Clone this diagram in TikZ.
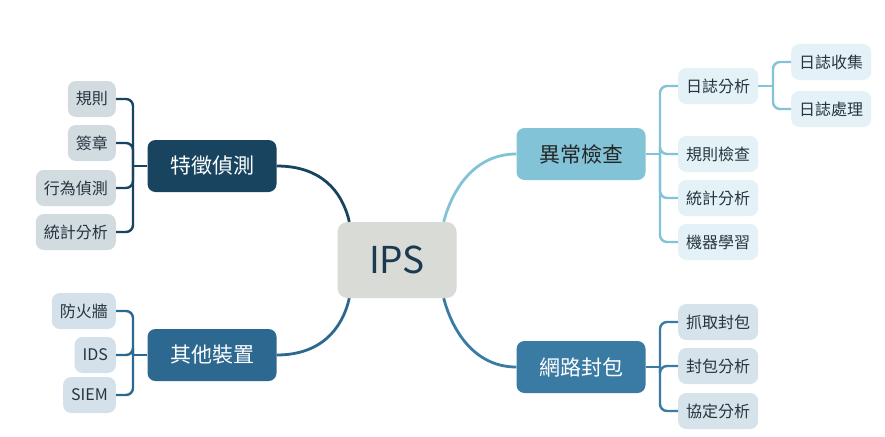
\documentclass[tikz,border=0pt]{standalone}
\usepackage{fontspec}
\setmainfont{Noto Sans CJK TC}
\usetikzlibrary{calc}
\definecolor{ipsfill}{HTML}{D9DBD7}
\definecolor{ipstext}{HTML}{1B3A4F}
\definecolor{tzcol}{HTML}{184460}
\definecolor{qtcol}{HTML}{2D6890}
\definecolor{yccol}{HTML}{83C3D7}
\definecolor{wlcol}{HTML}{3A7BA4}
\definecolor{tzleaf}{HTML}{D2DBE0}
\definecolor{qtleaf}{HTML}{D5E1EA}
\definecolor{ycleaf}{HTML}{E4F2F7}
\definecolor{wlleaf}{HTML}{D6E3EB}
\definecolor{leaftext}{HTML}{26343F}
\tikzset{
  mainbox/.style={rounded corners=8pt, minimum width=129pt, minimum height=52pt,
    font=\fontsize{21}{25}\selectfont},
  leafbox/.style={rounded corners=8pt, minimum height=36pt, inner xsep=8pt,
    font=\fontsize{16}{19}\selectfont, text=leaftext},
  mainline/.style={line width=2.8pt},
  leafline/.style={line width=2.4pt, rounded corners=7pt}
}
\begin{document}
\begin{tikzpicture}[x=1pt, y=-1pt]
    \useasboundingbox[fill=white] (0,0) rectangle (885,436);
    % 中心
    \node[rounded corners=10pt, fill=ipsfill, text=ipstext, minimum width=119pt, minimum height=76pt,
      font=\fontsize{37}{40}\selectfont] (ips) at (397,260) {IPS};
    % 主分支
    \node[mainbox, fill=tzcol, text=white] (tz) at (212,166) {特徵偵測};
    \node[mainbox, fill=qtcol, text=white] (qt) at (212,355) {其他裝置};
    \node[mainbox, fill=yccol, text=black!85] (yc) at (581,154) {異常檢查};
    \node[mainbox, fill=wlcol, text=white] (wl) at (581,367) {網路封包};
    % 主分支連線
    \coordinate (ipsnw) at ($(ips.north west)+(12,0)$);
    \coordinate (ipssw) at ($(ips.south west)+(12,0)$);
    \coordinate (ipsne) at ($(ips.north east)+(-13,0)$);
    \coordinate (ipsse) at ($(ips.south east)+(-13,0)$);
    \draw[mainline, tzcol] (tz.east) .. controls (320,166) and (342,190) .. (ipsnw);
    \draw[mainline, qtcol] (qt.east) .. controls (320,355) and (342,330) .. (ipssw);
    \draw[mainline, yccol] (yc.west) .. controls (474,154) and (452,190) .. (ipsne);
    \draw[mainline, wlcol] (wl.west) .. controls (474,367) and (452,330) .. (ipsse);
    % 特徵偵測
    \coordinate (tzj) at (133,166);
    \draw[leafline, tzcol] (tzj) -- (tz.west);
    \foreach \t/\y [count=\i] in {規則/99, 簽章/143, 行為偵測/188, 統計分析/232} {
        \node[leafbox, fill=tzleaf, anchor=east] (tz\i) at (116,\y) {\t};
        \draw[leafline, tzcol] (tz\i.east) -| (tzj);
    }
    % 其他裝置
    \coordinate (qtj) at (133,355);
    \draw[leafline, qtcol] (qtj) -- (qt.west);
    \foreach \t/\y [count=\i] in {防火牆/311, IDS/355, SIEM/395} {
        \node[leafbox, fill=qtleaf, anchor=east] (qt\i) at (116,\y) {\t};
        \draw[leafline, qtcol] (qt\i.east) -| (qtj);
    }
    % 異常檢查
    \coordinate (ycj) at (660,154);
    \draw[leafline, yccol] (yc.east) -- (ycj);
    \foreach \t/\y [count=\i] in {日誌分析/86, 規則檢查/154, 統計分析/198, 機器學習/242} {
        \node[leafbox, fill=ycleaf, anchor=west] (yc\i) at (678,\y) {\t};
        \draw[leafline, yccol] (yc\i.west) -| (ycj);
    }
    % 日誌分析
    \coordinate (rzj) at (773,86);
    \draw[leafline, yccol] (yc1.east) -- (rzj);
    \foreach \t/\y [count=\i] in {日誌收集/62, 日誌處理/109} {
        \node[leafbox, fill=ycleaf, anchor=west] (rz\i) at (791,\y) {\t};
        \draw[leafline, yccol] (rz\i.west) -| (rzj);
    }
    % 網路封包
    \coordinate (wlj) at (660,367);
    \draw[leafline, wlcol] (wl.east) -- (wlj);
    \foreach \t/\y [count=\i] in {抓取封包/322, 封包分析/366, 協定分析/411} {
        \node[leafbox, fill=wlleaf, anchor=west] (wl\i) at (678,\y) {\t};
        \draw[leafline, wlcol] (wl\i.west) -| (wlj);
    }
\end{tikzpicture}
\end{document}
